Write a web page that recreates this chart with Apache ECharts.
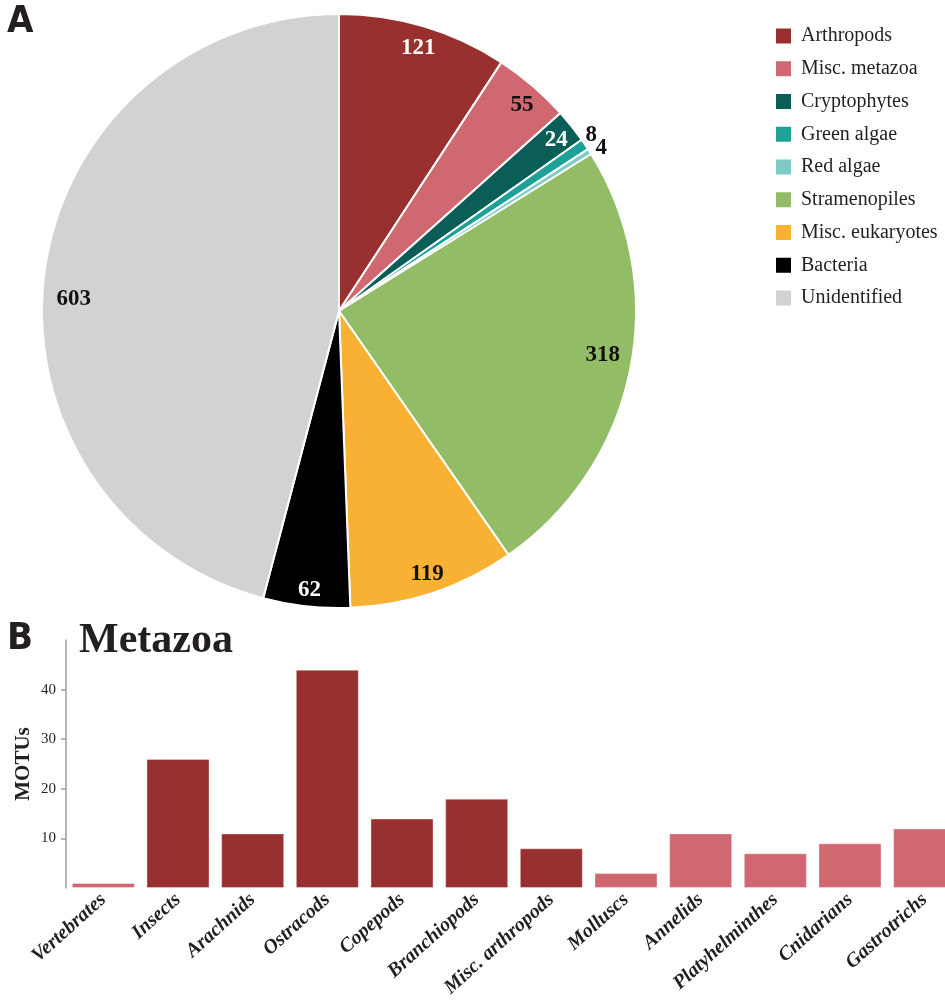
<!DOCTYPE html>
<html>
<head>
<meta charset="utf-8">
<script src="https://cdn.jsdelivr.net/npm/echarts@6/dist/echarts.min.js"></script>
<style>
html,body{margin:0;padding:0;background:#fff;}
#chart{width:945px;height:1005px;}
</style>
</head>
<body>
<div id="chart"></div>
<script>
// pie (panel A)
var pieNames = ['Arthropods','Misc. metazoa','Cryptophytes','Green algae','Red algae','Stramenopiles','Misc. eukaryotes','Bacteria','Unidentified'];
var pieValues = [121, 55, 24, 8, 4, 318, 119, 62, 603];

// bars (panel B)
var barCats = ['Vertebrates','Insects','Arachnids','Ostracods','Copepods','Branchiopods','Misc. arthropods','Molluscs','Annelids','Platyhelminthes','Cnidarians','Gastrotrichs'];
var barValues = [1, 26, 11, 44, 14, 18, 8, 3, 11, 7, 9, 12];
var barIsArthropod = [false, true, true, true, true, true, true, false, false, false, false, false];
var yTicks = [0, 10, 20, 30, 40, 50];

var pieColors = ['#98302f','#cf6870','#0b5d57','#1ea199','#7ecac4','#93bc66','#f8b133','#000000','#d1d2d2'];
var labelColors = ['#fff','#111','#fff','#111','#111','#111','#111','#fff','#111'];
// small nudges so labels sit where the original put them
var labelNudge = [[0, 3], [2, 4], [0, 2], [-6, -1], [-1, 5], [-8, -12], [0, 0], [1, 3], [10, 24]];
var serif = 'Liberation Serif';
var ink = '#231f20';

var chart = echarts.init(document.getElementById('chart'));

var mainData = pieNames.map(function(n, i){
	return {name: n, value: pieValues[i], itemStyle: {color: pieColors[i]}};
});
// labels sitting near the rim
var innerLabels = pieNames.map(function(n, i){
	var small = pieValues[i] < 10;
	return {name: n, value: pieValues[i], label: {show: !small, color: labelColors[i], offset: labelNudge[i]}};
});
// labels of the thin slices, just outside
var outerLabels = pieNames.map(function(n, i){
	var small = pieValues[i] < 10;
	return {name: n, value: pieValues[i], label: {show: small, color: '#111', offset: labelNudge[i]}};
});

var labelFont = {fontFamily: serif, fontWeight: 'bold', fontSize: 23, formatter: '{c}'};

chart.setOption({
	animation: false,
	title: [
		{text: 'A', left: 7, top: 3, padding: 0, textStyle: {fontFamily: 'DejaVu Sans Condensed', fontWeight: 'bold', fontSize: 38, color: ink}},
		{text: 'B', left: 7, top: 620, padding: 0, textStyle: {fontFamily: 'DejaVu Sans Condensed', fontWeight: 'bold', fontSize: 38, color: ink}},
		{text: 'Metazoa', left: 79, top: 620, padding: 0, textStyle: {fontFamily: serif, fontWeight: 'bold', fontSize: 42, color: ink}}
	],
	legend: {
		orient: 'vertical',
		left: 774,
		top: 26,
		padding: 0,
		itemWidth: 17,
		itemHeight: 17,
		itemGap: 12.75,
		icon: 'rect',
		selectedMode: false,
		data: pieNames.map(function(n, i){ return {name: n, itemStyle: {color: pieColors[i]}}; }),
		textStyle: {fontFamily: serif, fontSize: 20, color: ink, padding: [0, 0, 0, 4]}
	},
	grid: {left: 66, width: 896, top: 640, bottom: 117, outerBoundsMode: 'none'},
	xAxis: {
		type: 'category',
		data: barCats,
		axisLine: {show: false},
		axisTick: {show: false},
		axisLabel: {interval: 0, rotate: 42, margin: 9, fontFamily: serif, fontStyle: 'italic', fontWeight: 'bold', fontSize: 20, color: ink}
	},
	yAxis: {
		type: 'value',
		min: yTicks[0],
		max: yTicks[yTicks.length - 1],
		interval: 10,
		name: 'MOTUs',
		nameLocation: 'middle',
		nameGap: 32,
		nameMoveOverlap: false,
		nameTextStyle: {fontFamily: serif, fontWeight: 'bold', fontSize: 21, color: ink},
		axisLine: {show: true, lineStyle: {color: '#9d9d9d', width: 1.5}},
		axisTick: {show: true, length: 5, lineStyle: {color: '#9d9d9d', width: 1.5}},
		splitLine: {show: false},
		axisLabel: {showMinLabel: false, showMaxLabel: false, margin: 10, fontFamily: serif, fontSize: 15, color: ink}
	},
	series: [
		{
			type: 'bar',
			barCategoryGap: '15.6%',
			silent: true,
			data: barValues.map(function(v, i){
				return {value: v, itemStyle: {color: barIsArthropod[i] ? pieColors[0] : pieColors[1]}};
			}),
			itemStyle: {borderColor: 'rgba(255,255,255,0.35)', borderWidth: 1}
		},
		{
			type: 'pie',
			center: [339, 311],
			radius: 297,
			startAngle: 90,
			clockwise: true,
			silent: true,
			label: {show: false},
			labelLine: {show: false},
			itemStyle: {borderColor: '#fff', borderWidth: 2},
			data: mainData
		},
		{
			type: 'pie',
			center: [339, 311],
			radius: [252, 297],
			startAngle: 90,
			silent: true,
			itemStyle: {color: 'rgba(0,0,0,0)', borderWidth: 0},
			label: Object.assign({position: 'inside'}, labelFont),
			labelLine: {show: false},
			labelLayout: {hideOverlap: false},
			data: innerLabels
		},
		{
			type: 'pie',
			center: [339, 311],
			radius: [297, 321],
			startAngle: 90,
			silent: true,
			itemStyle: {color: 'rgba(0,0,0,0)', borderWidth: 0},
			label: Object.assign({position: 'inside'}, labelFont),
			labelLine: {show: false},
			labelLayout: {hideOverlap: false},
			data: outerLabels
		}
	]
});

window.onresize = function(){
	chart.resize();
}
</script>
</body>
</html>
